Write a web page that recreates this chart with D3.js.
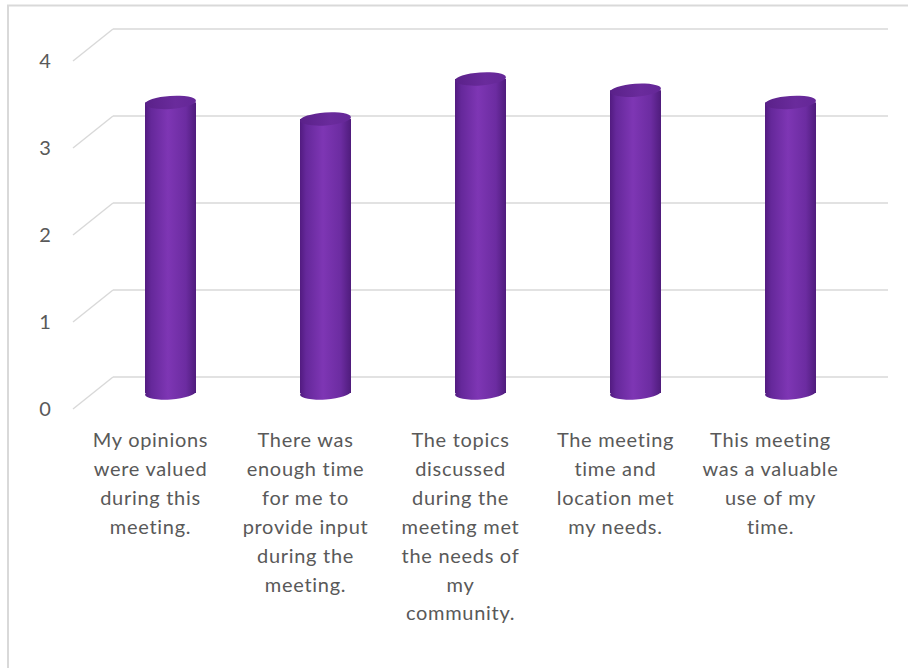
<!DOCTYPE html>
<html>
<head>
<meta charset="utf-8">
<script src="https://cdn.jsdelivr.net/npm/d3@7"></script>
<style>
  body { margin:0; background:#fff; }
  text { font-family: Lato, "Liberation Sans", sans-serif; fill:#595959; }
</style>
</head>
<body>
<div id="chart"></div>
<script>
// data
var categories = [
  ["My opinions", "were valued", "during this", "meeting."],
  ["There was", "enough time", "for me to", "provide input", "during the", "meeting."],
  ["The topics", "discussed", "during the", "meeting met", "the needs of", "my", "community."],
  ["The meeting", "time and", "location met", "my needs."],
  ["This meeting", "was a valuable", "use of my", "time."]
];
var values = [3.34, 3.15, 3.61, 3.48, 3.34];
var yTicks = [0, 1, 2, 3, 4];

var svgWidth = 908, svgHeight = 668;

// 3d depth: offset from the middle plane to the back wall
var depth = {dx: 20, dy: -16};

var svg = d3.select('#chart').append('svg')
  .attr('width', svgWidth)
  .attr('height', svgHeight);

// outer border (left + top only visible)
svg.append('path')
  .attr('d', 'M8,668 L8,5.5 L908,5.5')
  .attr('fill', 'none')
  .attr('stroke', '#d9d9d9')
  .attr('stroke-width', 2);

var ids = categories.map((c, i) => 'c' + i);

// scales on the middle plane (where the cylinders stand)
var xScale = d3.scaleBand().domain(ids).range([93, 868]);
var yScale = d3.scaleLinear().domain([0, 4]).range([393, 45]);

var defs = svg.append('defs');
var bodyGrad = defs.append('linearGradient').attr('id', 'cylBody')
  .attr('x1', '0%').attr('x2', '100%').attr('y1', '0%').attr('y2', '0%');
[[0, '#521b80'], [0.12, '#65289a'], [0.45, '#7e36b4'], [0.8, '#6c2ca1'], [1, '#4f1c7c']]
  .forEach(s => bodyGrad.append('stop').attr('offset', s[0]).attr('stop-color', s[1]));
var topGrad = defs.append('linearGradient').attr('id', 'cylTop')
  .attr('x1', '0%').attr('x2', '100%').attr('y1', '0%').attr('y2', '0%');
[[0, '#5a2189'], [0.6, '#6a2b9c'], [1, '#642797']]
  .forEach(s => topGrad.append('stop').attr('offset', s[0]).attr('stop-color', s[1]));

// gridlines: back wall line + slanted floor line to the front
var grid = svg.append('g');
yTicks.forEach(t => {
  var yb = yScale(t) + depth.dy;
  var xb = xScale.range()[0] + depth.dx;
  grid.append('line')
    .attr('x1', xb).attr('x2', xScale.range()[1] + depth.dx)
    .attr('y1', yb).attr('y2', yb)
    .attr('stroke', '#d9d9d9').attr('stroke-width', 1.5);
  grid.append('line')
    .attr('x1', xScale.range()[0] - depth.dx).attr('y1', yScale(t) - depth.dy)
    .attr('x2', xb).attr('y2', yb)
    .attr('stroke', '#d9d9d9').attr('stroke-width', 1.5);
});

// y tick labels on the front plane
svg.append('g').selectAll('text')
  .data(yTicks)
  .enter()
  .append('text')
  .attr('x', 45)
  .attr('y', d => yScale(d) - depth.dy)
  .attr('dy', '0.35em')
  .attr('text-anchor', 'middle')
  .style('font-size', '20px')
  .text(d => d);

// cylinders
var bw = 51, ry = 6.5;
var bars = svg.append('g').selectAll('g')
  .data(values)
  .enter()
  .append('g')
  .attr('transform', (d, i) => `translate(${xScale(ids[i]) + xScale.bandwidth() / 2},0)`);

bars.append('ellipse')
  .attr('cx', 0).attr('cy', yScale(0))
  .attr('rx', bw / 2).attr('ry', ry)
  .attr('transform', `rotate(-4,0,${yScale(0)})`)
  .attr('fill', 'url(#cylBody)');
bars.append('rect')
  .attr('x', -bw / 2).attr('width', bw)
  .attr('y', d => yScale(d))
  .attr('height', d => yScale(0) - yScale(d))
  .attr('fill', 'url(#cylBody)');
bars.append('ellipse')
  .attr('cx', 0).attr('cy', d => yScale(d))
  .attr('rx', bw / 2).attr('ry', ry)
  .attr('transform', d => `rotate(-4,0,${yScale(d)})`)
  .attr('fill', 'url(#cylTop)');

// category labels centred on the front plane
var labels = svg.append('g').selectAll('text')
  .data(categories)
  .enter()
  .append('text')
  .attr('text-anchor', 'middle')
  .attr('transform', (d, i) => `translate(${xScale(ids[i]) + xScale.bandwidth() / 2 - depth.dx},440)`)
  .style('font-size', '20px')
  .style('letter-spacing', '0.7px')
  .style('fill', '#595959');

labels.selectAll('tspan')
  .data(d => d)
  .enter()
  .append('tspan')
  .attr('x', 0)
  .attr('y', (d, j) => j * 28.9)
  .attr('dy', '0.35em')
  .text(d => d);
</script>
</body>
</html>
